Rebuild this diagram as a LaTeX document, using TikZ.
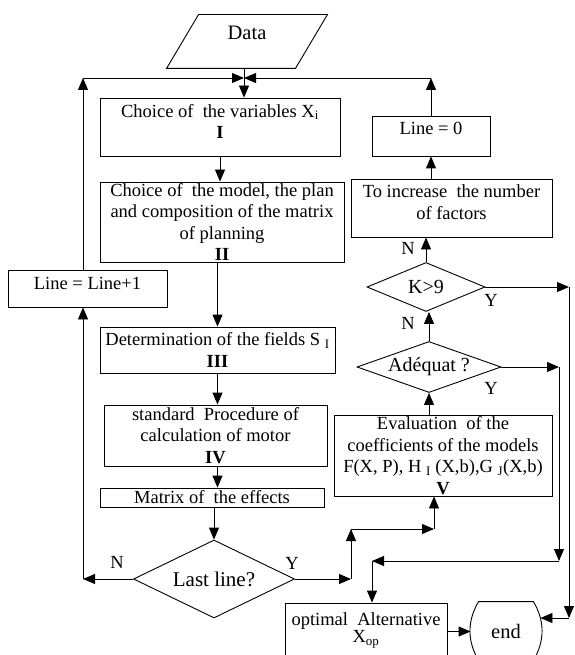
\documentclass[tikz,border=0pt]{standalone}
\usepackage{fontspec}
\setmainfont{Liberation Serif}
\usetikzlibrary{arrows.meta,shapes.geometric}

\begin{document}
\begin{tikzpicture}[x=1pt, y=-1pt, >={Triangle[length=12pt,width=10pt]}, line width=0.9pt,
    every node/.style={font=\fontsize{18.5}{21.5}\selectfont},
    box/.style={draw, rectangle, align=center, inner xsep=0pt, inner ysep=0pt},
    decision/.style={draw, diamond, inner sep=0pt, font=\fontsize{20}{24}\selectfont},
    lab/.style={inner sep=0pt}]
    \useasboundingbox (0,0) rectangle (574,655);

    \node[minimum width=128pt, minimum height=53pt, text depth=18pt, font=\fontsize{20.5}{24}\selectfont] (data) at (247,41.5) {Data};
    \draw ([xshift=-16pt]data.south west) -- ([xshift=16pt]data.north west) -- ([xshift=16pt]data.north east) -- ([xshift=-16pt]data.south east) -- cycle;

    \node[box, minimum width=240pt, minimum height=58pt, text depth=11pt] (varbox) at (220,127) {Choice of\ \ the variables X\textsubscript{i}\\ \textbf{I}};
    \node[box, minimum width=244pt, minimum height=80pt] (modelbox) at (222,222) {Choice of\ \ the model, the plan\\ and composition of the matrix\\ of planning\\ \textbf{II}};
    \node[box, minimum width=235pt, minimum height=46pt] (fieldbox) at (217.5,350) {Determination of the fields S \textsubscript{I}\\ \textbf{III}};
    \node[box, minimum width=223pt, minimum height=61pt] (procbox) at (215.5,435.5) {standard\ \ Procedure of\\ calculation of motor\\ \textbf{IV}};
    \node[box, minimum width=224pt, minimum height=19pt] (matrixbox) at (212,497.5) {Matrix of\ \ the effects};
    \node[decision, aspect=2.06, minimum width=161pt, minimum height=78pt, font=\fontsize{21}{25}\selectfont] (lastline) at (214,579) {Last line?};

    \node[box, minimum width=159pt, minimum height=37pt, text depth=11pt] (incbox) at (87.5,288.5) {Line = Line+1};
    \node[box, minimum width=118pt, minimum height=40pt, text depth=16pt] (zerobox) at (431,136) {Line = 0};
    \node[box, minimum width=201pt, minimum height=58pt, text depth=12pt] (morebox) at (451.5,208) {To increase\ \ the number\\ of factors};
    \node[decision, aspect=2.4, minimum width=118pt, minimum height=49pt] (kbig) at (426,287) {K>9};
    \node[decision, aspect=2.8, minimum width=144pt, minimum height=51pt] (adeq) at (429,367) {Adéquat ?};
    \node[box, minimum width=218pt, minimum height=81pt] (evalbox) at (443,455.5) {Evaluation\ \ of the\\ coefficients of the models\\ F(X, P), H \textsubscript{I} (X,b),G \textsubscript{J}(X,b)\\ \textbf{V}};
    \node[box, minimum width=162pt, minimum height=57pt, text depth=8pt] (optbox) at (366,631.5) {optimal\ \ Alternative\\[-4pt] X\textsubscript{op}};
    \node[minimum width=70pt, minimum height=58pt, font=\fontsize{20.5}{24}\selectfont] (endbox) at (506,631) {end};
    \draw ([xshift=8pt]endbox.north west) -- ([xshift=-8pt]endbox.north east) to[bend left=30] ([xshift=-8pt]endbox.south east) -- ([xshift=8pt]endbox.south west) to[bend left=30] cycle;

    \node[lab] (nlast) at (117,562) {N};
    \node[lab] (ylast) at (292,563) {Y};
    \node[lab] (nk) at (408,248) {N};
    \node[lab] (nadeq) at (408,323) {N};
    \node[lab] (yk) at (491,300) {Y};
    \node[lab] (yadeq) at (491,388) {Y};

    \coordinate (join) at (244,78);
    \coordinate (tl) at (83,78);
    \coordinate (tr) at (431,78);
    \coordinate (lb) at (83,579);
    \coordinate (ya) at (351,579);
    \coordinate (yb) at (351,529);
    \coordinate (yc) at (434,529);
    \coordinate (kr1) at (569,287);
    \coordinate (kr2) at (569,618);
    \coordinate (ar1) at (559,367);
    \coordinate (ar2) at (559,561);
    \coordinate (ar3) at (372,561);

    \draw (data.south -| join) -- (join);
    \draw[->] (join) -- (join |- varbox.north);
    \draw[->] (varbox.south) -- (varbox.south |- modelbox.north);
    \draw[->] (fieldbox.north |- modelbox.south) -- (fieldbox.north);
    \draw[->] (fieldbox.south) -- (fieldbox.south |- procbox.north);
    \draw[->] (fieldbox.south |- procbox.south) -- (fieldbox.south |- matrixbox.north);
    \draw[->] (matrixbox.south -| lastline.north) -- (lastline.north);

    \draw[->] (lastline.west) -- (lb);
    \draw[->] (lb) -- (lb |- incbox.south);
    \draw[->] (lb |- incbox.north) -- (tl);
    \draw[->] (tl) -- (join);

    \draw[->] (zerobox.north) -- (tr);
    \draw[->] (tr) -- (join);
    \draw[->] (zerobox.south |- morebox.north) -- (zerobox.south);
    \draw[->] (kbig.north) -- (kbig.north |- morebox.south);
    \draw[->] (adeq.north) -- (adeq.north |- kbig.south);
    \draw[->] (adeq.south |- evalbox.north) -- (adeq.south);

    \draw[->] (lastline.east) -- (ya);
    \draw[->] (ya) -- (yb);
    \draw[->] (yb) -- (yc);
    \draw[->] (yc) -- (yc |- evalbox.south);

    \draw[->] (kbig.east) -- (kr1);
    \draw[->] (kr1) -- (kr2);
    \draw[->] (kr2) -- ([xshift=-1pt]kr2 -| endbox.east);

    \draw[->] (adeq.east) -- (ar1);
    \draw[->] (ar1) -- (ar2);
    \draw[->] (ar2) -- (ar3);
    \draw[->] (ar3) -- (ar3 |- optbox.north);

    \draw[->] (optbox.east) -- (optbox.east -| endbox.west);
\end{tikzpicture}
\end{document}
